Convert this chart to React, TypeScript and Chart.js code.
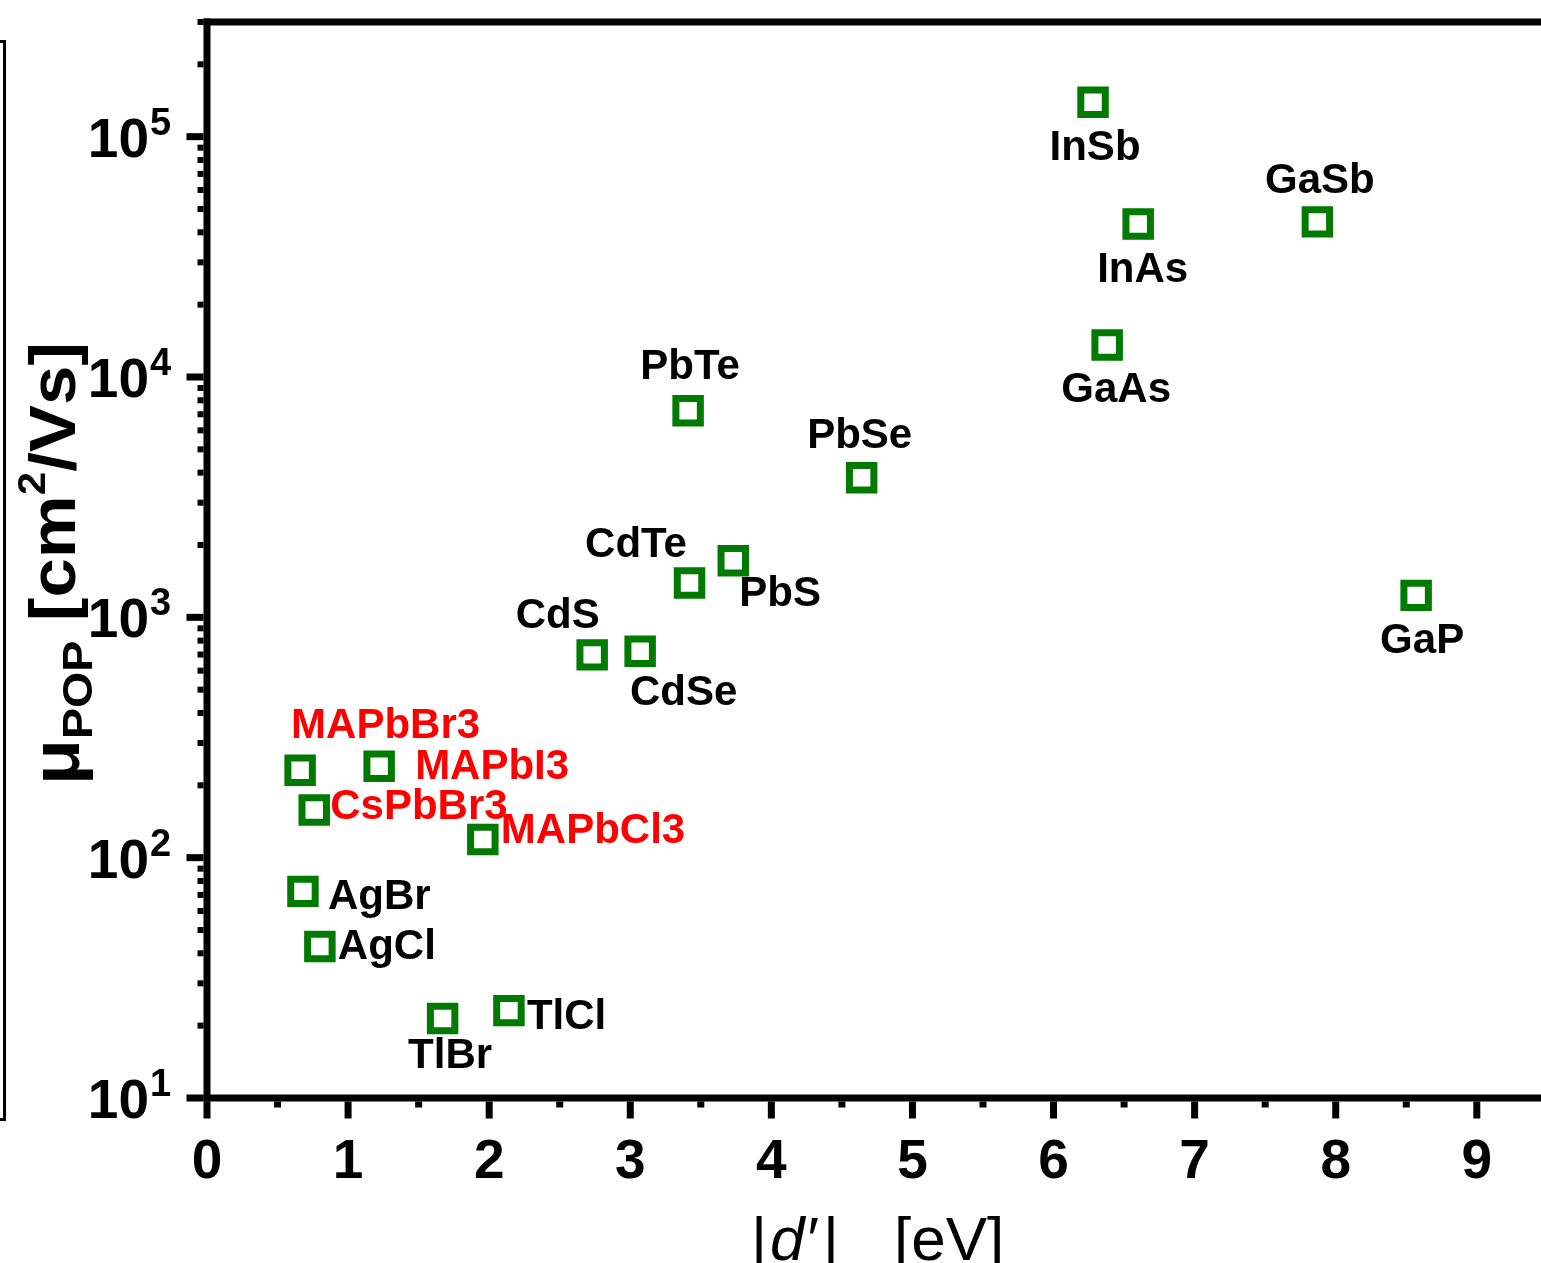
import React, { useEffect, useRef } from 'react';
import { Chart, registerables } from 'chart.js';

Chart.register(...registerables);

// ---------------- data ----------------
const MATERIALS = [
  'InSb', 'InAs', 'GaSb', 'GaAs', 'PbTe', 'PbSe', 'CdTe', 'PbS', 'GaP', 'CdS', 'CdSe',
  'MAPbBr3', 'MAPbI3', 'CsPbBr3', 'MAPbCl3', 'AgBr', 'AgCl', 'TlBr', 'TlCl',
];
const D_PRIME = [
  6.28, 6.6, 7.87, 6.38, 3.41, 4.64, 3.42, 3.73, 8.57, 2.73, 3.07,
  0.66, 1.22, 0.76, 1.955, 0.68, 0.8, 1.67, 2.14,
];
const MU_POP = [
  139000, 43300, 44200, 13600, 7230, 3810, 1390, 1720, 1234, 698, 722,
  231, 240, 158, 119, 72.4, 42.7, 21.4, 23.1,
];
const PEROVSKITE = [
  false, false, false, false, false, false, false, false, false, false, false,
  true, true, true, true, false, false, false, false,
];

const X_TICKS = [0, 1, 2, 3, 4, 5, 6, 7, 8, 9];
const X_MINOR_TICKS = [0.5, 1.5, 2.5, 3.5, 4.5, 5.5, 6.5, 7.5, 8.5];
const Y_DECADES = [1, 2, 3, 4, 5];
const X_MIN = 0;
const X_MAX = 9.455;
const Y_MIN = 10;
const Y_MAX = 300000;

// label placement (style/layout, relative to marker): [dx, dy, align]
const LABEL_PLACEMENT: [number, number, CanvasTextAlign][] = [
  [2, 58, 'center'],
  [4.5, 58, 'center'],
  [2.5, -29, 'center'],
  [9, 57, 'center'],
  [2, -32, 'center'],
  [-2, -30, 'center'],
  [-53.5, -26, 'center'],
  [6, 45, 'left'],
  [6, 57.5, 'center'],
  [-34.5, -27, 'center'],
  [43.5, 53.5, 'center'],
  [-9, -32.5, 'left'],
  [36, 12.5, 'left'],
  [16, 9, 'left'],
  [18, 3.5, 'left'],
  [25, 17.5, 'left'],
  [18, 12.5, 'left'],
  [7.5, 49.5, 'center'],
  [18, 18.5, 'left'],
];

const FONT = '"Liberation Sans", Arial, Helvetica, sans-serif';
const GREEN = '#007A00';
const RED = '#FF0000';

const axesPlugin = {
  id: 'customAxes',
  beforeDatasetsDraw(chart: any) {
    const { ctx, chartArea: ca, scales } = chart;
    const xs = scales.x;
    const ys = scales.y;
    const LW = 7;
    ctx.save();
    ctx.fillStyle = '#000';
    // frame: left, top, bottom
    ctx.fillRect(ca.left - LW / 2, ca.top - LW / 2, LW, ca.bottom - ca.top + LW);
    ctx.fillRect(ca.left - LW / 2, ca.top - LW / 2, ca.right - ca.left + LW, LW);
    ctx.fillRect(ca.left - LW / 2, ca.bottom - LW / 2, ca.right - ca.left + LW, LW);
    // y ticks
    for (let e = 0; e <= 6; e++) {
      for (let m = 1; m <= 9; m++) {
        const v = m * Math.pow(10, e);
        if (v < Y_MIN * 0.9999 || v > Y_MAX * 1.0001) continue;
        const py = ys.getPixelForValue(v);
        const major = m === 1;
        const len = major ? 17 : 6;
        const w = major ? 7 : 6;
        ctx.fillRect(ca.left - LW / 2 - len, py - w / 2, len, w);
      }
    }
    // x ticks
    X_TICKS.forEach((t) => {
      const px = xs.getPixelForValue(t);
      ctx.fillRect(px - 3.5, ca.bottom + LW / 2, 7, 17);
    });
    X_MINOR_TICKS.forEach((t) => {
      const px = xs.getPixelForValue(t);
      ctx.fillRect(px - 3.5, ca.bottom + LW / 2, 7, 6);
    });
    // stray frame line of neighbouring panel at far left
    ctx.fillRect(3, 40, 3, 1081);
    ctx.fillRect(0, 40, 6, 3);
    ctx.fillRect(0, 1118, 6, 3);
    ctx.restore();
  },
  afterDatasetsDraw(chart: any) {
    const { ctx, chartArea: ca, scales } = chart;
    const xs = scales.x;
    const ys = scales.y;
    ctx.save();
    ctx.fillStyle = '#000';
    ctx.textBaseline = 'alphabetic';

    // x tick labels
    ctx.font = `bold 55px ${FONT}`;
    ctx.textAlign = 'center';
    X_TICKS.forEach((t) => {
      ctx.fillText(String(t), xs.getPixelForValue(t), 1178);
    });

    // y tick labels 10^n
    Y_DECADES.forEach((e) => {
      const py = ys.getPixelForValue(Math.pow(10, e));
      ctx.font = `bold 55px ${FONT}`;
      ctx.textAlign = 'right';
      ctx.fillText('10', 149, py + 20);
      ctx.font = `bold 38px ${FONT}`;
      ctx.textAlign = 'left';
      ctx.fillText(String(e), 150, py - 2);
    });

    // point labels
    const meta = chart.getDatasetMeta(0);
    ctx.font = `bold 42px ${FONT}`;
    MATERIALS.forEach((name, i) => {
      const pt = meta.data[i];
      const [dx, dy, align] = LABEL_PLACEMENT[i];
      ctx.fillStyle = PEROVSKITE[i] ? RED : '#000';
      ctx.textAlign = align;
      ctx.fillText(name, pt.x + dx, pt.y + dy);
    });

    // y axis title
    ctx.fillStyle = '#000';
    ctx.textAlign = 'left';
    const segs = [
      { t: 'μ', f: `bold 68px ${FONT}`, dy: 4 },
      { t: 'POP', f: `bold 42px ${FONT}`, dy: 17 },
      { t: ' [cm', f: `bold 64px ${FONT}`, dy: 0 },
      { t: '2', f: `bold 38px ${FONT}`, dy: -30 },
      { t: '/Vs]', f: `bold 64px ${FONT}`, dy: 0 },
    ];
    let total = 0;
    const widths = segs.map((s) => {
      ctx.font = s.f;
      const w = ctx.measureText(s.t).width;
      total += w;
      return w;
    });
    ctx.save();
    ctx.translate(75, 785);
    ctx.rotate(-Math.PI / 2);
    ctx.scale(443 / total, 1);
    let cx = 0;
    segs.forEach((s, i) => {
      ctx.font = s.f;
      ctx.fillText(s.t, cx, s.dy);
      cx += widths[i];
    });
    ctx.restore();

    // x axis title  |d′|  [eV]
    const mid = (ca.left + ca.right) / 2;
    const base = 1260;
    ctx.textAlign = 'left';
    ctx.font = `62px ${FONT}`;
    ctx.fillText('|', mid - 123, base);
    ctx.font = `italic 62px ${FONT}`;
    ctx.fillText('d′', mid - 104, base);
    ctx.fillText('|', mid - 52, base);
    ctx.font = `62px ${FONT}`;
    ctx.fillText('[eV]', mid + 20, base);
    ctx.restore();
  },
};

export default function App() {
  const ref = useRef<HTMLCanvasElement | null>(null);
  useEffect(() => {
    if (!ref.current) return;
    const chart = new Chart(ref.current, {
      type: 'scatter',
      data: {
        datasets: [
          {
            data: D_PRIME.map((x, i) => ({ x, y: MU_POP[i] })),
            pointStyle: 'rect',
            pointRadius: 17.3,
            pointBorderWidth: 7,
            borderColor: GREEN,
            backgroundColor: '#FFFFFF',
            showLine: false,
          } as any,
        ],
      },
      options: {
        responsive: false,
        animation: false,
        devicePixelRatio: 1,
        events: [],
        layout: { autoPadding: false, padding: { top: 22, left: 0, right: 0, bottom: 0 } },
        plugins: { legend: { display: false }, tooltip: { enabled: false } },
        scales: {
          x: {
            type: 'linear',
            min: X_MIN,
            max: X_MAX,
            grid: { display: false },
            border: { display: false },
            ticks: { display: false },
            afterFit: (s: any) => {
              s.height = 165;
            },
          },
          y: {
            type: 'logarithmic',
            min: Y_MIN,
            max: Y_MAX,
            grid: { display: false },
            border: { display: false },
            ticks: { display: false },
            afterFit: (s: any) => {
              s.width = 207;
            },
          },
        },
      } as any,
      plugins: [axesPlugin],
    });
    return () => chart.destroy();
  }, []);
  return (
    <div style={{ position: 'fixed', left: 0, top: 0, width: 1541, height: 1263, background: '#fff', overflow: 'hidden' }}>
      <canvas ref={ref} width={1541} height={1263} style={{ display: 'block', width: 1541, height: 1263 }} />
    </div>
  );
}
